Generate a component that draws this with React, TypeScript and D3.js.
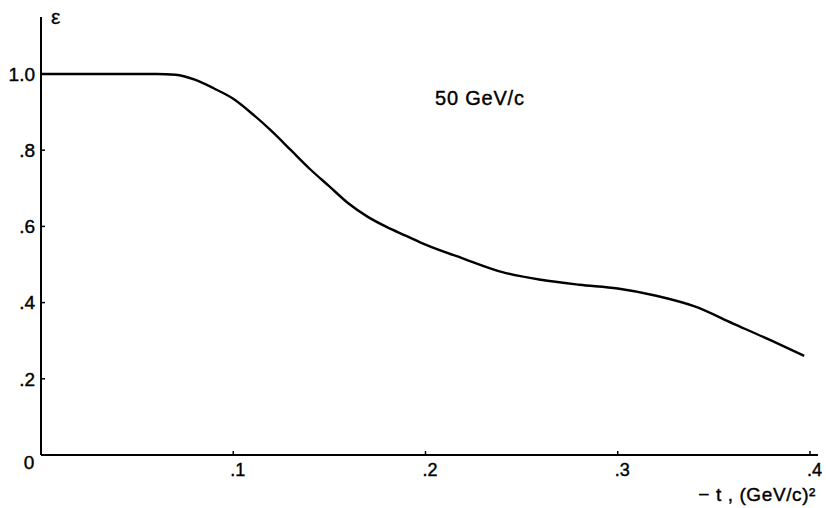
import React from "react";
import * as d3 from "d3";

// momentum transfer -t (GeV/c)^2 and epsilon
const tValues = [0, 0.02, 0.04, 0.06, 0.07, 0.08, 0.09, 0.1, 0.11, 0.12, 0.13, 0.14, 0.15, 0.16, 0.17, 0.18, 0.19, 0.2, 0.22, 0.24, 0.26, 0.28, 0.3, 0.32, 0.34, 0.36, 0.38, 0.397];
const epsValues = [1.0, 1.0, 1.0, 1.0, 0.998, 0.985, 0.962, 0.935, 0.895, 0.85, 0.8, 0.75, 0.705, 0.66, 0.625, 0.598, 0.575, 0.552, 0.515, 0.48, 0.46, 0.447, 0.437, 0.418, 0.39, 0.345, 0.3, 0.26];

const xTicks = [0.1, 0.2, 0.3, 0.4];
const xTickLabels = [".1", ".2", ".3", ".4"];
const yTicks = [0.2, 0.4, 0.6, 0.8, 1.0];
const yTickLabels = [".2", ".4", ".6", ".8", "1.0"];

const W = 826;
const H = 508;
const font = "'Liberation Sans', Arial, sans-serif";

export default function App() {
  const x = d3.scaleLinear().domain([0, 0.4]).range([41, 810]);
  const y = d3.scaleLinear().domain([0, 1]).range([455, 74]);

  const pts: [number, number][] = tValues.map((t, i) => [t, epsValues[i]]);
  const line = d3
    .line<[number, number]>()
    .x((d) => x(d[0]))
    .y((d) => y(d[1]))
    .curve(d3.curveMonotoneX);

  return (
    <svg width={W} height={H} style={{ position: "absolute", left: 0, top: 0, background: "#fff" }}>
      {/* axes */}
      <line x1={x(0)} x2={x(0)} y1={17} y2={y(0)} stroke="#000" strokeWidth={2} />
      <line x1={x(0)} x2={818} y1={y(0)} y2={y(0)} stroke="#000" strokeWidth={2} />

      {yTicks.map((v, i) => (
        <g key={"y" + i}>
          <line x1={x(0)} x2={x(0) + 4} y1={y(v)} y2={y(v)} stroke="#000" strokeWidth={1.5} />
          <text x={x(0) - 6} y={y(v)} dy="0.36em" textAnchor="end" fontFamily={font} fontSize={19} stroke="#000" strokeWidth={0.4}>
            {yTickLabels[i]}
          </text>
        </g>
      ))}
      <text x={29} y={y(0) + 7} dy="0.36em" textAnchor="middle" fontFamily={font} fontSize={19} stroke="#000" strokeWidth={0.4}>
        0
      </text>

      {xTicks.map((v, i) => (
        <g key={"x" + i}>
          <line x1={x(v)} x2={x(v)} y1={y(0)} y2={y(0) - 4} stroke="#000" strokeWidth={1.5} />
          <text x={x(v) - 3} y={y(0) + 15} dy="0.36em" textAnchor="start" fontFamily={font} fontSize={18} stroke="#000" strokeWidth={0.4}>
            {xTickLabels[i]}
          </text>
        </g>
      ))}

      <path d={line(pts) || ""} fill="none" stroke="#000" strokeWidth={2.4} />

      <text x={51} y={24} fontFamily={font} fontSize={21} stroke="#000" strokeWidth={0.3}>
        ε
      </text>
      <text x={435} y={105} fontFamily={font} fontSize={20} letterSpacing={0.8} stroke="#000" strokeWidth={0.4}>
        50 GeV/c
      </text>
      <text x={816} y={501} textAnchor="end" fontFamily={font} fontSize={19} letterSpacing={0.6} stroke="#000" strokeWidth={0.4}>
        − t , (GeV/c)²
      </text>
    </svg>
  );
}
